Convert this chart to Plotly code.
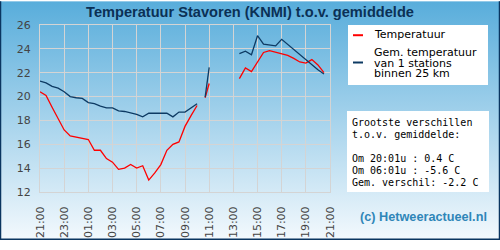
import base64
from datetime import datetime, timedelta
import plotly.graph_objects as go

# ---- data ----
times = ["21:00", "21:30", "22:00", "22:30", "23:00", "23:30", "00:00", "00:30",
         "01:00", "01:30", "02:00", "02:30", "03:00", "03:30", "04:00", "04:30",
         "05:00", "05:30", "06:00", "06:30", "07:00", "07:30", "08:00", "08:30",
         "09:00", "09:30", "10:00", "10:20", "10:40", "11:00", "12:00", "13:30",
         "14:00", "14:30", "15:00", "15:30", "16:00", "16:30", "17:00", "17:30",
         "18:00", "18:30", "19:00", "19:30", "20:00", "20:30"]
temperatuur = [20.4, 20.1, 19.1, 18.1, 17.2, 16.7, 16.6, 16.5,
               16.4, 15.5, 15.5, 14.8, 14.5, 13.9, 14.0, 14.3,
               14.0, 14.2, 13.0, 13.6, 14.3, 15.5, 16.0, 16.2,
               17.5, 18.4, 19.25, None, 19.9, 21.1, None, 21.5,
               22.4, 22.1, 22.9, 23.7, 23.85, 23.7, 23.55, 23.45,
               23.2, 22.9, 22.8, 23.1, 22.65, 22.0]
gemiddelde = [21.3, 21.15, 20.85, 20.7, 20.4, 20.0, 19.9, 19.85,
              19.5, 19.4, 19.2, 19.05, 19.05, 18.8, 18.75, 18.65,
              18.5, 18.3, 18.6, 18.6, 18.6, 18.6, 18.3, 18.7,
              18.7, 19.05, 19.4, None, 19.95, 22.45, None, 23.6,
              23.8, 23.5, 25.1, 24.4, 24.35, 24.25, 24.8, 24.37,
              23.93, 23.5, 23.06, 22.67, 22.25, 21.9]
x_ticks = ["21:00", "23:00", "01:00", "03:00", "05:00", "07:00", "09:00",
           "11:00", "13:00", "15:00", "17:00", "19:00", "21:00"]
title = "Temperatuur Stavoren (KNMI) t.o.v. gemiddelde"
legend_labels = ["Temperatuur", ["Gem. temperatuur", "van 1 stations", "binnen 25 km"]]
info_lines = ["Grootste verschillen", "t.o.v. gemiddelde:", "",
              "Om 20:01u : 0.4 C", "Om 06:01u : -5.6 C", "Gem. verschil: -2.2 C"]
credit = "(c) Hetweeractueel.nl"

# ---- time conversion ----
start = datetime(2024, 6, 1, 21, 0)
xs = []
day = 0
prev = None
for t in times:
    h, m = map(int, t.split(":"))
    mins = h * 60 + m
    if prev is not None and mins < prev:
        day += 1
    prev = mins
    xs.append(datetime(2024, 6, 1) + timedelta(days=day, minutes=mins))
end = start + timedelta(hours=24)
tickvals = [start + timedelta(hours=2 * i) for i in range(len(x_ticks))]

W, H = 500, 250
L, R, T, B = 40, 170, 25, 50
PW, PH = W - L - R, H - T - B

def px(x):
    return (x - L) / PW

def py(y):
    return (H - B - y) / PH

RED = "#ff0000"
NAVY = "#0d3a63"

fig = go.Figure()
fig.add_trace(go.Scatter(x=xs, y=temperatuur, mode="lines",
                         line=dict(color=RED, width=1.3), connectgaps=False,
                         name="Temperatuur", showlegend=False))
fig.add_trace(go.Scatter(x=xs, y=gemiddelde, mode="lines",
                         line=dict(color=NAVY, width=1.3), connectgaps=False,
                         name="Gem. temperatuur", showlegend=False))

svg = ('<svg xmlns="http://www.w3.org/2000/svg" width="500" height="250">'
       '<defs><linearGradient id="g" x1="0" y1="0" x2="0" y2="1">'
       '<stop offset="0" stop-color="#58addb"/>'
       '<stop offset="0.5" stop-color="#a6d3ec"/>'
       '<stop offset="1" stop-color="#f3f9fd"/>'
       '</linearGradient></defs><rect width="500" height="250" fill="url(#g)"/></svg>')
src = "data:image/svg+xml;base64," + base64.b64encode(svg.encode()).decode()

shapes = []
# legend box & info box
shapes.append(dict(type="rect", xref="paper", yref="paper", x0=px(348), x1=px(488),
                   y0=py(88), y1=py(25), fillcolor="white", line=dict(width=0)))
shapes.append(dict(type="rect", xref="paper", yref="paper", x0=px(347), x1=px(489),
                   y0=py(200), y1=py(115), fillcolor="white", line=dict(width=0)))
# legend line markers
shapes.append(dict(type="line", xref="paper", yref="paper", x0=px(353), x1=px(363),
                   y0=py(35.7), y1=py(35.7), line=dict(color=RED, width=2)))
shapes.append(dict(type="line", xref="paper", yref="paper", x0=px(353), x1=px(363),
                   y0=py(64.3), y1=py(64.3), line=dict(color=NAVY, width=2)))
# border (left, right, bottom)
for (x0, y0, x1, y1) in [(0.5, 0, 0.5, 250), (499.5, 0, 499.5, 250), (0, 249.5, 500, 249.5)]:
    shapes.append(dict(type="line", xref="paper", yref="paper", x0=px(x0), x1=px(x1),
                       y0=py(y0), y1=py(y1), line=dict(color="#0a3560", width=1.5)))

ann = []
ann.append(dict(text=legend_labels[0], xref="paper", yref="paper", x=px(372), y=py(35),
                xanchor="left", yanchor="middle", showarrow=False,
                font=dict(family="DejaVu Sans", size=11, color="#000")))
for i, s in enumerate(legend_labels[1]):
    ann.append(dict(text=s, xref="paper", yref="paper", x=px(372), y=py(54.3 + 10.6 * i),
                    xanchor="left", yanchor="middle", showarrow=False,
                    font=dict(family="DejaVu Sans", size=11, color="#000")))
for i, s in enumerate(info_lines):
    if not s:
        continue
    ann.append(dict(text=s.replace(" ", "&nbsp;"), xref="paper", yref="paper", x=px(349.5),
                    y=py(126.7 + 12.6 * i), xanchor="left", yanchor="middle",
                    showarrow=False,
                    font=dict(family="DejaVu Sans Mono", size=10, color="#000")))
ann.append(dict(text=credit, xref="paper", yref="paper", x=px(423.5), y=py(226),
                xanchor="center", yanchor="middle", showarrow=False,
                font=dict(family="Liberation Sans", size=12.7, color="#2f86b8", weight="bold")))

fig.update_layout(
    width=W, height=H,
    margin=dict(l=L, r=R, t=T, b=B, pad=0),
    paper_bgcolor="rgba(0,0,0,0)",
    plot_bgcolor="white",
    title=dict(text=title, x=0.5, xref="container", xanchor="center",
               y=1 - 11.5 / H, yref="container", yanchor="middle",
               font=dict(family="Liberation Sans", size=14.6, color="#0b3055", weight="bold")),
    images=[dict(source=src, xref="paper", yref="paper", x=px(0), y=py(0),
                 sizex=W / PW, sizey=H / PH, sizing="stretch",
                 xanchor="left", yanchor="top", layer="below")],
    shapes=shapes,
    annotations=ann,
    showlegend=False,
)
fig.update_xaxes(range=[start, end], tickvals=tickvals, ticktext=x_ticks,
                 tickangle=-90, showgrid=True, gridcolor="#d4d4d4", gridwidth=1,
                 showline=True, mirror=True, linecolor="#d4d4d4", linewidth=1,
                 ticks="outside", ticklen=9, tickcolor="rgba(0,0,0,0)",
                 tickfont=dict(family="DejaVu Sans", size=11, color="#444"),
                 zeroline=False, fixedrange=True)
fig.update_yaxes(range=[12, 26], dtick=2, tick0=12, showgrid=True,
                 gridcolor="#d4d4d4", gridwidth=1,
                 showline=True, mirror=True, linecolor="#d4d4d4", linewidth=1,
                 ticks="outside", ticklen=6, tickcolor="rgba(0,0,0,0)",
                 tickfont=dict(family="DejaVu Sans", size=11, color="#444"),
                 zeroline=False, fixedrange=True)

fig.write_html("out.html", config={"displayModeBar": False})
